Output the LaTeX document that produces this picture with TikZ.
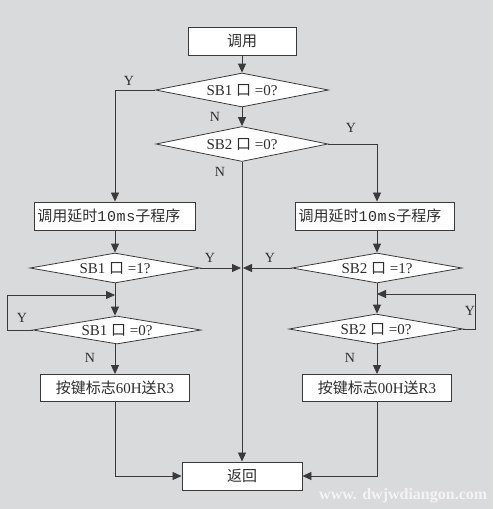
\documentclass[tikz,border=0pt]{standalone}
\usepackage{fontspec}
\setmainfont{Liberation Serif}
\newfontfamily\cjk{Noto Sans CJK SC}
\newfontfamily\monof{Liberation Mono}
\usetikzlibrary{shapes.geometric,arrows.meta}
\definecolor{bg}{HTML}{D9DADB}
\definecolor{ln}{HTML}{3A3A3A}
\definecolor{tx}{HTML}{2E2E2E}
\tikzset{
  box/.style={draw=ln, line width=0.9pt, fill=white, inner sep=0pt, text=tx,
    font=\fontsize{15}{18}\selectfont},
  lbox/.style={box, inner xsep=3pt, text width=155pt, align=left},
  dia/.style={diamond, draw=ln, line width=0.8pt, fill=white, inner sep=0pt, aspect=5,
    text=tx, font=\fontsize{15}{18}\selectfont},
  lbl/.style={text=tx, font=\fontsize{14}{16}\selectfont, inner sep=0pt},
  conn/.style={draw=ln, line width=0.8pt},
  arr/.style={conn, -{Triangle[length=9pt,width=8pt]}}
}
\newcommand{\kou}{{\cjk 口}}
\begin{document}
\begin{tikzpicture}[x=1pt,y=-1pt]
\fill[bg] (0,0) rectangle (493,509);
\useasboundingbox (0,0) rectangle (493,509);

% nodes
\node[box, minimum width=108pt, minimum height=28pt] (start) at (242,41) {\cjk 调用};
\node[dia, minimum width=173pt, minimum height=34pt] (d1) at (242,90) {SB1 \kou{} =0?};
\node[dia, minimum width=172pt, minimum height=35pt] (d2) at (242,144) {SB2 \kou{} =0?};
\node[lbox, minimum height=28pt] (dl) at (115,216) {{\cjk 调用延时}{\monof\addfontfeature{LetterSpace=4}10ms}{\cjk 子程序}};
\node[lbox, text width=153pt, minimum height=28pt] (dr) at (375,216) {{\cjk 调用延时}{\monof\addfontfeature{LetterSpace=4}10ms}{\cjk 子程序}};
\node[dia, minimum width=170pt, minimum height=30pt] (d3) at (115,268) {SB1 \kou{} =1?};
\node[dia, minimum width=170pt, minimum height=30pt] (d4) at (377,268) {SB2 \kou{} =1?};
\node[dia, minimum width=168pt, minimum height=28pt] (d5) at (117,330) {SB1 \kou{} =0?};
\node[dia, minimum width=174pt, minimum height=30pt] (d6) at (376,329) {SB2 \kou{} =0?};
\node[box, minimum width=149pt, minimum height=27pt] (kl) at (115,388) {{\cjk 按键标志}60H{\cjk 送}R3\hspace{5pt}};
\node[box, minimum width=149pt, minimum height=27pt] (kr) at (377,388) {{\cjk 按键标志}00H{\cjk 送}R3\hspace{5pt}};
\node[box, minimum width=120pt, minimum height=28pt] (ret) at (242,476) {\cjk 返回};

\coordinate (m) at (242,268);
\coordinate (lx) at (115,295);
\coordinate (rx) at (377,294);

% connectors
\draw[arr] (start) -- (d1);
\draw[arr] (d1) -- (d2);
\draw[arr] (d1.west) -| (dl.north -| d3.north);
\draw[arr] (d2.east) -| (dr.north -| d4.north);
\draw[arr] (d2.south) -- (ret.north);
\draw[arr] (dl.south -| d3.north) -- (d3.north);
\draw[arr] (dr.south -| d4.north) -- (d4.north);
\draw[arr] (d3.east) -- ([xshift=-1pt]m);
\draw[arr] (d4.west) -- ([xshift=1pt]m);
\draw[arr] (d3.south) -- (d3.south |- d5.north);
\draw[arr] (d4.south) -- (d4.south |- d6.north);
\draw[arr] (d5.west) -- (7,330) |- (lx);
\draw[arr] (d6.east) -- (475,329) |- (rx);
\draw[arr] (d5.south -| kl.north) -- (kl.north);
\draw[arr] (d6.south -| kr.north) -- (kr.north);
\draw[arr] (kl.south) |- (ret.west);
\draw[arr] (kr.south) |- (ret.east);

% labels
\node[lbl] (y1) at (129,81) {Y};
\node[lbl] (n1) at (215,117) {N};
\node[lbl] (y2) at (351,128) {Y};
\node[lbl] (n2) at (220,172) {N};
\node[lbl] (y3) at (210,258) {Y};
\node[lbl] (y4) at (270,258) {Y};
\node[lbl] (y5) at (22,318) {Y};
\node[lbl] (y6) at (470,311) {Y};
\node[lbl] (n3) at (90,358) {N};
\node[lbl] (n4) at (350,358) {N};

% watermark
\node[text=white, opacity=0.7, font=\fontsize{16}{18}\selectfont\bfseries, inner sep=0pt, anchor=west] (wm) at (319,496) {www. dwjwdiangon.com};
\end{tikzpicture}
\end{document}
